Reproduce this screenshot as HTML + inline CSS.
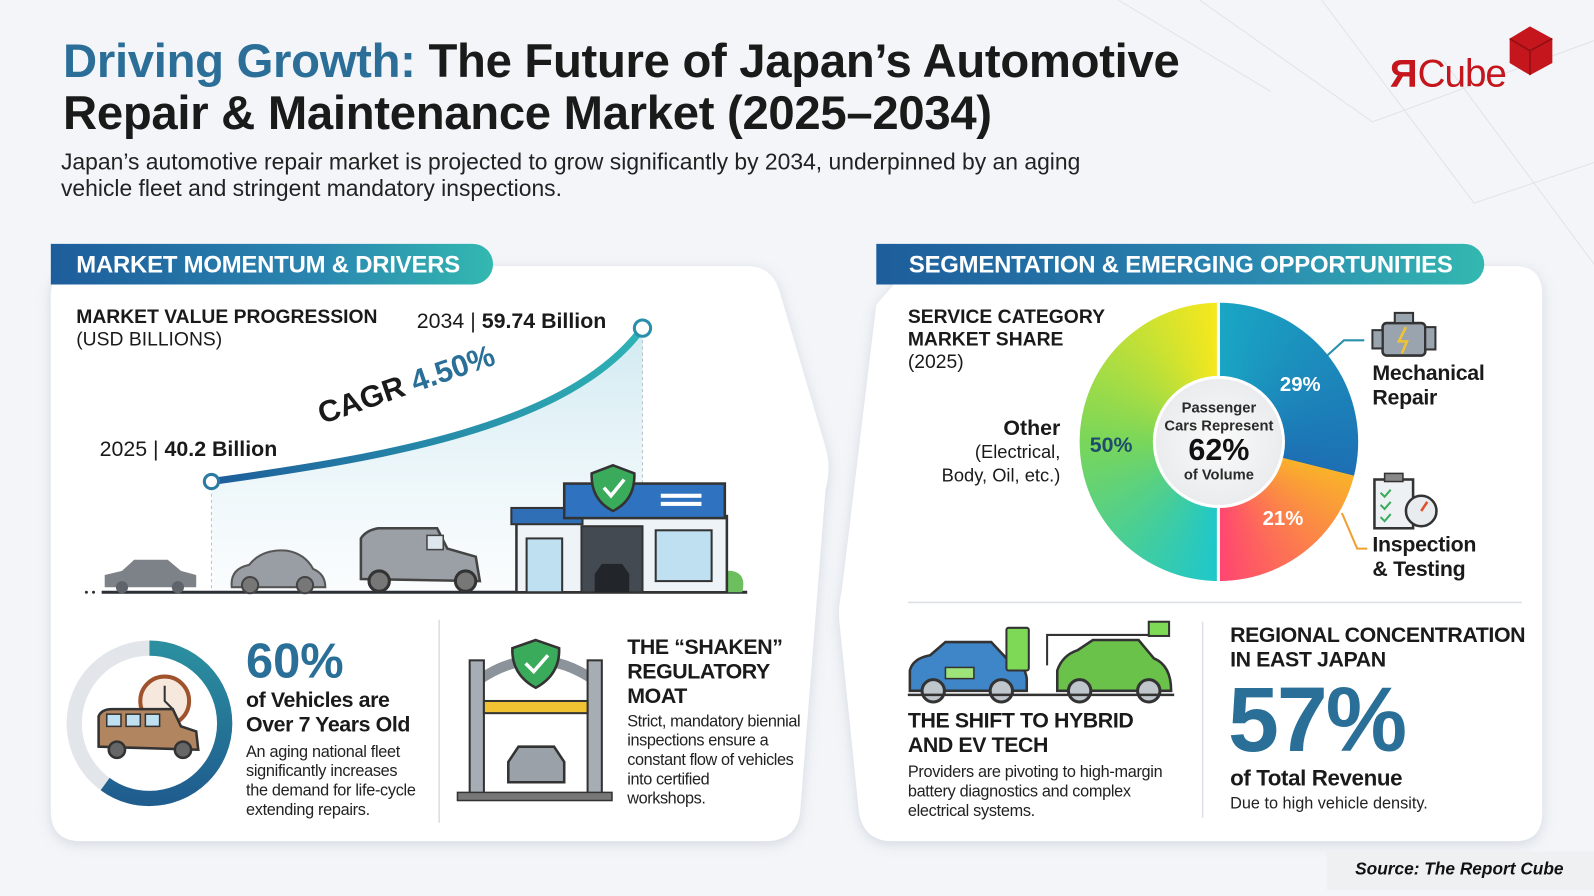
<!DOCTYPE html>
<html><head><meta charset="utf-8"><style>
*{margin:0;padding:0;box-sizing:border-box}
body{width:1594px;height:896px;overflow:hidden;background:#f3f5f8;font-family:"Liberation Sans",sans-serif;color:#1a1a1a}
#w{position:absolute;left:0;top:0;width:1568px;height:882px;transform:scale(1.0166,1.0159);transform-origin:0 0}
.a{position:absolute;white-space:nowrap}
.b{font-weight:bold}
.hdr{position:absolute;height:40px;border-radius:0 20px 20px 0;background:linear-gradient(90deg,#1d5d9b,#2a86b0 60%,#33b8b0);color:#fff;font-weight:bold;font-size:23.5px;line-height:40px;padding-left:25px;letter-spacing:-0.2px}
</style></head><body><div id="w">
<svg class="a" style="left:0;top:0" width="1568" height="882">
<defs>
<filter id="sh" x="-5%" y="-5%" width="110%" height="115%"><feDropShadow dx="0" dy="3" stdDeviation="6" flood-color="#8a9bb0" flood-opacity="0.3"/></filter>
<linearGradient id="cg" x1="0" x2="1"><stop offset="0" stop-color="#1d5d9b"/><stop offset="1" stop-color="#2fb3b5"/></linearGradient>
<linearGradient id="fa" x1="0" y1="0" x2="0" y2="1"><stop offset="0" stop-color="#cfeaf1"/><stop offset="1" stop-color="#eef6fa" stop-opacity="0.3"/></linearGradient>
<linearGradient id="tg" x1="0" x2="1"><stop offset="0" stop-color="#1f5d8f"/><stop offset="1" stop-color="#2b8f9f"/></linearGradient>
</defs>
<g stroke="#dfe4ea" stroke-width="1" fill="none"><path d="M1180 0 L1350 120 L1568 40 M1300 0 L1450 200 L1568 160 M1420 60 L1568 260 M1100 0 L1250 90"/></g>
<path filter="url(#sh)" fill="#fff" d="M80 262 L735 262 Q758 262 766 284 L812 440 Q818 460 812 482 L787 800 Q783 828 752 828 L80 828 Q50 828 50 798 L50 292 Q50 262 80 262Z"/>
<path filter="url(#sh)" fill="#fff" d="M895 262 L1490 262 Q1517 262 1517 290 L1517 800 Q1517 828 1490 828 L878 828 Q850 828 845 800 L826 615 Q824 598 828 582 L862 300 Z"/>
<path d="M208 474 C380 450 560 420 632 323 L632 583 L208 583Z" fill="url(#fa)"/>
<line x1="208" y1="474" x2="208" y2="583" stroke="#b8c4cc" stroke-dasharray="3 3"/>
<line x1="632" y1="323" x2="632" y2="583" stroke="#b8c4cc" stroke-dasharray="3 3"/>
<path d="M208 474 C380 450 560 420 632 323" stroke="url(#cg)" stroke-width="7" fill="none" stroke-linecap="round"/>
<circle cx="208" cy="474" r="7" fill="#fff" stroke="#2a7aa3" stroke-width="3"/>
<circle cx="632" cy="323" r="8" fill="#fff" stroke="#2a8faa" stroke-width="3"/>
<line x1="100" y1="583" x2="735" y2="583" stroke="#2b2f36" stroke-width="3"/>
<circle cx="85" cy="583" r="1.5" fill="#333"/><circle cx="92" cy="583" r="1.5" fill="#333"/>
<path d="M103 578 L103 566 L120 562 L132 551 L165 551 L178 562 L193 566 L193 578Z" fill="#7d8288"/>
<circle cx="120" cy="578" r="6" fill="#5f646a"/><circle cx="175" cy="578" r="6" fill="#5f646a"/>
<path d="M228 578 Q226 560 245 556 Q258 540 282 542 Q300 545 308 560 Q320 565 320 578Z" fill="#999ea4" stroke="#555" stroke-width="2"/>
<circle cx="246" cy="576" r="8" fill="#777" stroke="#444" stroke-width="2"/><circle cx="300" cy="576" r="8" fill="#777" stroke="#444" stroke-width="2"/>
<path d="M355 570 L355 530 Q360 522 372 520 L430 520 L440 540 L468 548 L472 572 Z" fill="#9aa0a6" stroke="#444" stroke-width="2.5"/>
<rect x="420" y="527" width="16" height="14" fill="#dfe7ee" stroke="#444" stroke-width="1.5"/>
<circle cx="373" cy="572" r="10" fill="#777" stroke="#333" stroke-width="3"/><circle cx="458" cy="572" r="10" fill="#777" stroke="#333" stroke-width="3"/>
<path d="M705 583 Q705 560 720 562 Q735 565 730 583Z" fill="#6cbf5c"/>
<rect x="508" y="508" width="207" height="75" fill="#eef3f8" stroke="#333" stroke-width="2.5"/>
<rect x="503" y="500" width="70" height="16" fill="#2f6fb5" stroke="#333" stroke-width="2"/>
<rect x="555" y="476" width="158" height="34" fill="#2f72c0" stroke="#333" stroke-width="2.5"/>
<rect x="650" y="486" width="40" height="4" fill="#fff"/><rect x="650" y="494" width="40" height="4" fill="#fff"/>
<rect x="518" y="530" width="35" height="53" fill="#bfe0f0" stroke="#333" stroke-width="2"/>
<rect x="572" y="518" width="60" height="65" fill="#444a52" stroke="#333" stroke-width="2"/>
<rect x="645" y="522" width="55" height="50" fill="#bfe0f0" stroke="#333" stroke-width="2"/>
<path d="M585 583 L585 565 L592 555 L612 555 L619 565 L619 583Z" fill="#22262b"/>
<path d="M603 458 L624 466 Q625 492 603 503 Q581 492 582 466Z" fill="#3aab5a" stroke="#333" stroke-width="2.5"/>
<path d="M594 480 L601 488 L614 472" stroke="#fff" stroke-width="3.5" fill="none"/>
<circle cx="147" cy="712" r="74" fill="none" stroke="#e2e5ea" stroke-width="15"/>
<circle cx="147" cy="712" r="74" fill="none" stroke="url(#tg)" stroke-width="15" stroke-dasharray="279 465" transform="rotate(-90 147 712)"/>
<circle cx="162" cy="690" r="24" fill="#f6e8dc" stroke="#a0522d" stroke-width="4"/>
<path d="M162 675 L162 690 L170 698" stroke="#333" stroke-width="2" fill="none"/>
<path d="M97 735 L97 705 Q100 698 110 698 L170 698 L178 715 L193 720 L195 738Z" fill="#b08560" stroke="#333" stroke-width="2.5"/>
<rect x="105" y="703" width="14" height="12" fill="#bfe0f0" stroke="#333" stroke-width="1.5"/><rect x="124" y="703" width="14" height="12" fill="#bfe0f0" stroke="#333" stroke-width="1.5"/><rect x="143" y="703" width="14" height="12" fill="#bfe0f0" stroke="#333" stroke-width="1.5"/>
<circle cx="115" cy="738" r="8" fill="#666" stroke="#333" stroke-width="2.5"/><circle cx="180" cy="738" r="8" fill="#666" stroke="#333" stroke-width="2.5"/>
<line x1="432" y1="610" x2="432" y2="810" stroke="#d9dde2" stroke-width="1.5"/>
<path d="M470 670 Q527 630 585 670" stroke="#8c939b" stroke-width="10" fill="none"/>
<rect x="462" y="650" width="14" height="135" fill="#a7adb4" stroke="#333" stroke-width="2"/>
<rect x="578" y="650" width="14" height="135" fill="#a7adb4" stroke="#333" stroke-width="2"/>
<rect x="476" y="690" width="102" height="12" fill="#f1c232" stroke="#333" stroke-width="2"/>
<rect x="450" y="780" width="152" height="8" fill="#777" stroke="#333" stroke-width="1.5"/>
<path d="M500 770 L500 750 L510 735 L545 735 L555 750 L555 770Z" fill="#9aa1a8" stroke="#333" stroke-width="2.5"/>
<path d="M527 630 L550 638 Q551 664 527 677 Q503 664 504 638Z" fill="#3aab5a" stroke="#333" stroke-width="2.5"/>
<path d="M517 653 L525 661 L539 645" stroke="#fff" stroke-width="3.5" fill="none"/>
<line x1="893" y1="593" x2="1497" y2="593" stroke="#dde1e6" stroke-width="1.5"/>
<line x1="1183" y1="612" x2="1183" y2="805" stroke="#dde1e6" stroke-width="1.5"/>
<path d="M1300 355 L1322 335 L1342 335" stroke="#2a8faa" stroke-width="2" fill="none"/>
<path d="M1320 505 L1335 540 L1345 540" stroke="#f0a030" stroke-width="2" fill="none"/>
<rect x="1360" y="318" width="42" height="32" rx="4" fill="#9aa4ae" stroke="#333" stroke-width="2.5"/>
<rect x="1372" y="308" width="18" height="10" fill="#9aa4ae" stroke="#333" stroke-width="2"/>
<rect x="1350" y="325" width="10" height="18" fill="#9aa4ae" stroke="#333" stroke-width="2"/><rect x="1402" y="322" width="10" height="22" fill="#9aa4ae" stroke="#333" stroke-width="2"/>
<path d="M1383 322 L1376 336 L1384 336 L1379 348" stroke="#f1c232" stroke-width="2.5" fill="none"/>
<rect x="1352" y="472" width="38" height="48" fill="#eef1f4" stroke="#333" stroke-width="2.5"/>
<rect x="1362" y="466" width="18" height="8" fill="#888" stroke="#333" stroke-width="1.5"/>
<path d="M1358 485 L1362 489 L1368 482 M1358 497 L1362 501 L1368 494 M1358 509 L1362 513 L1368 506" stroke="#3aab5a" stroke-width="2" fill="none"/>
<circle cx="1398" cy="503" r="15" fill="#e8ecef" stroke="#333" stroke-width="2.5"/>
<path d="M1398 503 L1404 494" stroke="#e0502a" stroke-width="2.5"/>
<path d="M895 680 L895 660 Q898 648 915 645 L930 632 L975 632 L990 648 Q1008 652 1010 668 L1010 680Z" fill="#3f86c8" stroke="#333" stroke-width="2.5"/>
<rect x="930" y="657" width="28" height="11" fill="#9ee27a" stroke="#333" stroke-width="1.5"/>
<circle cx="918" cy="680" r="11" fill="#bfc6cc" stroke="#333" stroke-width="3"/><circle cx="985" cy="680" r="11" fill="#bfc6cc" stroke="#333" stroke-width="3"/>
<rect x="990" y="618" width="22" height="42" rx="2" fill="#7ed957" stroke="#333" stroke-width="2"/>
<path d="M1030 655 L1030 625 L1132 625 L1132 618" stroke="#333" stroke-width="2" fill="none"/>
<rect x="1130" y="612" width="20" height="14" fill="#7ed957" stroke="#333" stroke-width="2"/>
<path d="M1040 680 L1040 660 Q1045 645 1060 640 L1075 630 L1120 630 L1135 648 Q1152 655 1152 680Z" fill="#6bc24a" stroke="#333" stroke-width="2.5"/>
<circle cx="1062" cy="680" r="11" fill="#bfc6cc" stroke="#333" stroke-width="3"/><circle cx="1130" cy="680" r="11" fill="#bfc6cc" stroke="#333" stroke-width="3"/>
<line x1="893" y1="684" x2="1155" y2="684" stroke="#333" stroke-width="2.5"/>
<path d="M1485 38 L1505 26 L1527 38 L1527 62 L1505 74 L1485 62Z" fill="#c4161c"/>
<path d="M1485 38 L1505 50 L1527 38 M1505 50 L1505 74" stroke="#8e0f14" stroke-width="1.5" fill="none"/>
</svg>
<div class="a" style="left:1062px;top:298px;width:274px;height:274px;border-radius:50%;background:conic-gradient(#1aa6c4 0deg,#1d6fb3 104deg,#f9b22a 104deg,#ff4572 180deg,#1ec7cc 180deg,#79d65a 270deg,#f8e81c 360deg)"></div>
<div class="a" style="left:1197px;top:298px;width:3px;height:274px;background:#fff"></div>
<div class="a" style="left:1134px;top:370px;width:130px;height:130px;border-radius:50%;background:radial-gradient(#fafafa,#e4e6e9);border:3px solid #fff"></div>
<div class="a b" style="left:1134px;top:393px;width:130px;text-align:center;font-size:14.5px;line-height:18px;white-space:normal;color:#2a2a2a">Passenger<br>Cars Represent<div style="font-size:30px;line-height:30px;color:#111">62%</div><span style="font-size:14.5px">of Volume</span></div>
<div class="a b" style="left:1259px;top:368px;font-size:20px;color:#fff">29%</div>
<div class="a b" style="left:1242px;top:500px;font-size:20px;color:#fff">21%</div>
<div class="a b" style="left:1072px;top:427px;font-size:21px;color:#1d4d6b">50%</div>

<div class="a b" style="left:62px;top:33px;font-size:46.5px;letter-spacing:-0.3px"><span style="color:#2b6e98">Driving Growth:</span> The Future of Japan’s Automotive</div>
<div class="a b" style="left:62px;top:84px;font-size:46.5px;letter-spacing:-0.3px">Repair &amp; Maintenance Market (2025–2034)</div>
<div class="a" style="left:60px;top:147px;font-size:22.5px;line-height:26px;color:#222">Japan’s automotive repair market is projected to grow significantly by 2034, underpinned by an aging<br>vehicle fleet and stringent mandatory inspections.</div>
<div class="a" style="left:1368px;top:52px;font-size:38px;color:#c4161c;letter-spacing:-1px"><span style="font-weight:bold;display:inline-block;transform:scaleX(-1)">R</span>Cube</div>

<div class="hdr" style="left:50px;top:240px;width:435px">MARKET MOMENTUM &amp; DRIVERS</div>
<div class="hdr" style="left:862px;top:240px;width:598px;padding-left:32px">SEGMENTATION &amp; EMERGING OPPORTUNITIES</div>

<div class="a b" style="left:75px;top:302px;font-size:19px;line-height:22px">MARKET VALUE PROGRESSION<br><span style="font-weight:normal">(USD BILLIONS)</span></div>
<div class="a" style="left:410px;top:305px;font-size:21px">2034 | <b>59.74 Billion</b></div>
<div class="a" style="left:98px;top:431px;font-size:21px">2025 | <b>40.2 Billion</b></div>
<div class="a b" style="left:314px;top:392px;font-size:30px;transform:rotate(-19deg);transform-origin:0 50%">CAGR <span style="color:#2a6f97">4.50%</span></div>

<div class="a b" style="left:242px;top:624px;font-size:48px;color:#2a6f97">60%</div>
<div class="a b" style="left:242px;top:678px;font-size:21px;line-height:24px;letter-spacing:-0.4px">of Vehicles are<br>Over 7 Years Old</div>
<div class="a" style="left:242px;top:731px;font-size:16px;line-height:19px;letter-spacing:-0.3px;color:#222">An aging national fleet<br>significantly increases<br>the demand for life-cycle<br>extending repairs.</div>
<div class="a b" style="left:617px;top:626px;font-size:21px;line-height:24px;letter-spacing:-0.4px">THE “SHAKEN”<br>REGULATORY<br>MOAT</div>
<div class="a" style="left:617px;top:701px;font-size:16px;line-height:19px;letter-spacing:-0.4px;color:#222">Strict, mandatory biennial<br>inspections ensure a<br>constant flow of vehicles<br>into certified<br>workshops.</div>

<div class="a b" style="left:893px;top:302px;font-size:19px;line-height:22px">SERVICE CATEGORY<br>MARKET SHARE<br><span style="font-weight:normal">(2025)</span></div>
<div class="a" style="left:900px;top:410px;width:143px;text-align:right;font-size:18px;line-height:23px;white-space:normal"><b style="font-size:21px">Other</b><br>(Electrical,<br>Body, Oil, etc.)</div>
<div class="a b" style="left:1350px;top:356px;font-size:21px;line-height:24px;letter-spacing:-0.3px">Mechanical<br>Repair</div>
<div class="a b" style="left:1350px;top:525px;font-size:21px;line-height:24px;letter-spacing:-0.3px">Inspection<br>&amp; Testing</div>

<div class="a b" style="left:893px;top:698px;font-size:21px;line-height:24px;letter-spacing:-0.4px">THE SHIFT TO HYBRID<br>AND EV TECH</div>
<div class="a" style="left:893px;top:751px;font-size:16px;line-height:19px;letter-spacing:-0.3px;color:#222">Providers are pivoting to high-margin<br>battery diagnostics and complex<br>electrical systems.</div>
<div class="a b" style="left:1210px;top:614px;font-size:21px;line-height:24px;letter-spacing:-0.4px">REGIONAL CONCENTRATION<br>IN EAST JAPAN</div>
<div class="a b" style="left:1208px;top:664px;font-size:90px;line-height:90px;color:#2a6f97;letter-spacing:-2px">57%</div>
<div class="a b" style="left:1210px;top:753px;font-size:22px;letter-spacing:-0.4px">of Total Revenue</div>
<div class="a" style="left:1210px;top:783px;font-size:16px;color:#222">Due to high vehicle density.</div>

<div class="a" style="left:1305px;top:838px;width:263px;height:38px;background:#eef0f2"></div>
<div class="a b" style="left:1305px;top:846px;width:233px;text-align:right;font-size:17px;font-style:italic;color:#111">Source: The Report Cube</div>
</div></body></html>
